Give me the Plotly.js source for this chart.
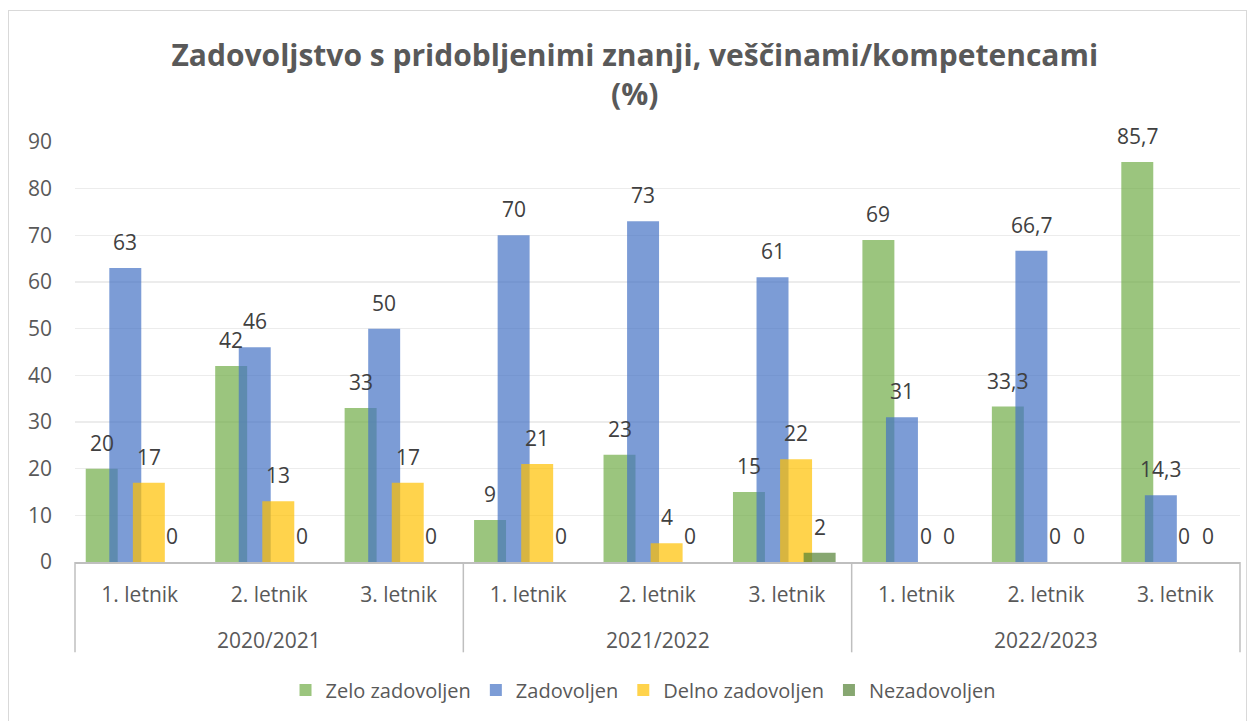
<!DOCTYPE html>
<html>
<head>
<meta charset="utf-8">
<script src="https://cdn.plot.ly/plotly-3.0.1.min.js"></script>
<style>
  html, body { margin: 0; padding: 0; background: #ffffff; }
  #chart { width: 1252px; height: 721px; }
  #frame { position: absolute; left: 8px; top: 10px; width: 1239px; height: 720px;
           border: 1px solid #d9d9d9; pointer-events: none; box-sizing: border-box; }
</style>
</head>
<body>
<div id="chart"></div>
<div id="frame"></div>
<script>
// ---- data ----
const years = ["2020/2021", "2021/2022", "2022/2023"];
const letniki = ["1. letnik", "2. letnik", "3. letnik",
                 "1. letnik", "2. letnik", "3. letnik",
                 "1. letnik", "2. letnik", "3. letnik"];
const seriesNames = ["Zelo zadovoljen", "Zadovoljen", "Delno zadovoljen", "Nezadovoljen"];
const zeloZadovoljen  = [20, 42, 33, 9, 23, 15, 69, 33.3, 85.7];
const zadovoljen      = [63, 46, 50, 70, 73, 61, 31, 66.7, 14.3];
const delnoZadovoljen = [17, 13, 17, 21, 4, 22, 0, 0, 0];
const nezadovoljen    = [0, 0, 0, 0, 0, 2, 0, 0, 0];
const yTicks = [0, 10, 20, 30, 40, 50, 60, 70, 80, 90];

// ---- style ----
const colors = ["rgba(112,173,71,0.7)", "rgba(68,114,196,0.7)", "rgba(255,192,0,0.7)", "rgba(84,130,53,0.7)"];
const offsets = [-0.417, -0.235, -0.053, 0.129];
const barW = 0.247;
const FONT = "'Open Sans', 'Noto Sans', sans-serif";

const allSeries = [zeloZadovoljen, zadovoljen, delnoZadovoljen, nezadovoljen];
const xs = letniki.map((_, i) => i);

const traces = allSeries.map((vals, s) => ({
  type: "bar",
  name: seriesNames[s],
  x: xs,
  y: vals,
  offset: offsets[s],
  width: barW,
  marker: { color: colors[s], line: { width: 0 } },
  hoverinfo: "skip"
}));

const fmt = v => String(v).replace(".", ",");
const annotations = [];
allSeries.forEach((vals, s) => {
  vals.forEach((v, i) => {
    annotations.push({
      x: i + offsets[s] + barW / 2, y: v, xref: "x", yref: "y",
      text: fmt(v), showarrow: false, yanchor: "middle", xanchor: "center",
      yshift: 26, font: { family: FONT, size: 21, color: "#404040" }
    });
  });
});
years.forEach((yr, k) => {
  annotations.push({
    x: k * 3 + 1, y: -0.185, xref: "x", yref: "paper",
    text: yr, showarrow: false, yanchor: "middle", xanchor: "center",
    font: { family: FONT, size: 21, color: "#595959" }
  });
});

const shapes = [0, 1, 2, 3].map(k => ({
  type: "line", xref: "paper", yref: "paper",
  x0: k / 3, x1: k / 3, y0: 0, y1: -0.215,
  line: { color: "#bfbfbf", width: 1.5 }
}));

const layout = {
  width: 1252, height: 721,
  margin: { l: 75, r: 12, t: 142, b: 156 },
  paper_bgcolor: "#ffffff", plot_bgcolor: "#ffffff",
  barmode: "overlay",
  title: {
    text: "<b>Zadovoljstvo s pridobljenimi znanji, veščinami/kompetencami<br>(%)</b>",
    x: 0.507, xanchor: "center", y: 0.909, yanchor: "top",
    font: { family: FONT, size: 30, color: "#595959" }
  },
  xaxis: {
    range: [-0.5, 8.5], tickmode: "array", tickvals: xs, ticktext: letniki,
    showgrid: false, zeroline: false, showline: true, linecolor: "#bfbfbf", linewidth: 2,
    ticks: "", ticklabelstandoff: 13,
    tickfont: { family: FONT, size: 21, color: "#595959" }, fixedrange: true
  },
  yaxis: {
    range: [0, 90], tickmode: "array", tickvals: yTicks,
    showgrid: true, gridcolor: "#ececec", gridwidth: 1.5, zeroline: false, showline: false,
    ticks: "", ticklabelstandoff: 22,
    tickfont: { family: FONT, size: 21, color: "#595959" }, fixedrange: true
  },
  showlegend: true,
  legend: {
    orientation: "h", x: 0.488, xanchor: "center", y: -0.305, yanchor: "middle",
    font: { family: FONT, size: 20, color: "#595959" }, itemclick: false, itemdoubleclick: false,
    traceorder: "normal"
  },
  annotations: annotations,
  shapes: shapes
};

Plotly.newPlot("chart", traces, layout, { displayModeBar: false, staticPlot: true });
</script>
</body>
</html>
